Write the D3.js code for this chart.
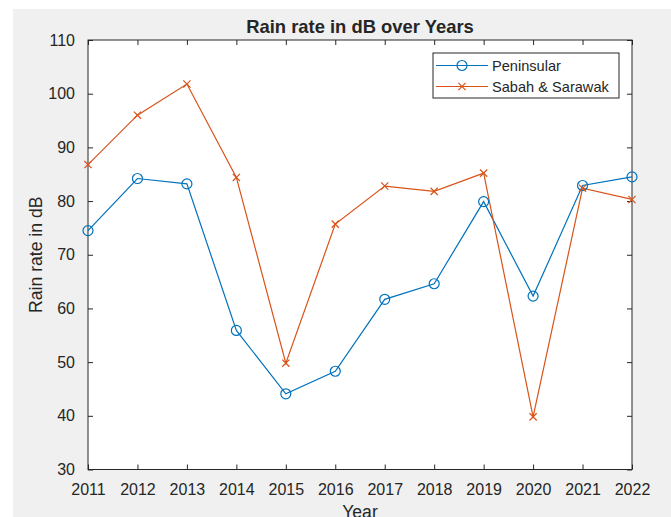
<!DOCTYPE html>
<html>
<head>
<meta charset="utf-8">
<script src="https://cdn.jsdelivr.net/npm/d3@7"></script>
<style>
  html, body { margin: 0; padding: 0; background: #ffffff; }
  svg { display: block; }
  text { font-family: "Liberation Sans", Arial, Helvetica, sans-serif; fill: #262626; }
</style>
</head>
<body>
<script>
// Annual rain rate (dB) for the two regions
const years = [2011, 2012, 2013, 2014, 2015, 2016, 2017, 2018, 2019, 2020, 2021, 2022];
const peninsular = [74.5, 84.2, 83.2, 55.9, 44.1, 48.3, 61.7, 64.6, 79.9, 62.3, 82.9, 84.5];
const sabahSarawak = [86.8, 96.0, 101.8, 84.4, 49.8, 75.7, 82.8, 81.8, 85.2, 39.8, 82.4, 80.3];
const yTicks = [30, 40, 50, 60, 70, 80, 90, 100, 110];
const seriesNames = ["Peninsular", "Sabah & Sarawak"];

const W = 671, H = 517;
const plotL = 88, plotR = 632, plotT = 40, plotB = 469.5;

const svg = d3.select("body").append("svg").attr("width", W).attr("height", H);

// figure background
svg.append("rect").attr("x", 13).attr("y", 9).attr("width", W - 13).attr("height", H - 9).attr("fill", "#f0f0f0");
svg.append("rect").attr("x", plotL).attr("y", plotT).attr("width", plotR - plotL).attr("height", plotB - plotT).attr("fill", "#ffffff");

const x = d3.scaleLinear().domain([2011, 2022]).range([plotL, plotR]);
const y = d3.scaleLinear().domain([30, 110]).range([plotB, plotT]);

const tickLen = 5;
// bottom axis with labels
const xAxis = svg.append("g").attr("transform", `translate(0,${plotB})`)
  .call(d3.axisBottom(x).tickValues(years).tickFormat(d3.format("d")).tickSizeInner(-tickLen).tickSizeOuter(0).tickPadding(14));
// top axis ticks only
const xTop = svg.append("g").attr("transform", `translate(0,${plotT})`)
  .call(d3.axisTop(x).tickValues(years).tickFormat("").tickSizeInner(-tickLen).tickSizeOuter(0));
// left axis with labels
const yAxis = svg.append("g").attr("transform", `translate(${plotL},0)`)
  .call(d3.axisLeft(y).tickValues(yTicks).tickSizeInner(-tickLen).tickSizeOuter(0).tickPadding(13));
// right axis ticks only
const yRight = svg.append("g").attr("transform", `translate(${plotR},0)`)
  .call(d3.axisRight(y).tickValues(yTicks).tickFormat("").tickSizeInner(-tickLen).tickSizeOuter(0));

[xAxis, xTop, yAxis, yRight].forEach(g => {
  g.select(".domain").remove();
  g.selectAll("line").attr("stroke", "#262626").attr("stroke-width", 1);
  g.selectAll("text").style("font-size", "16px").attr("fill", "#262626")
    .style("font-family", '"Liberation Sans", Arial, sans-serif');
});

// axes box
svg.append("rect").attr("x", plotL).attr("y", plotT).attr("width", plotR - plotL).attr("height", plotB - plotT)
  .attr("fill", "none").attr("stroke", "#262626").attr("stroke-width", 1);

const colors = ["#0072BD", "#D95319"];
const data = [peninsular, sabahSarawak];

const line = d3.line().x((d, i) => x(years[i])).y(d => y(d));

data.forEach((vals, s) => {
  svg.append("path").datum(vals).attr("d", line)
    .attr("fill", "none").attr("stroke", colors[s]).attr("stroke-width", 1.2);
});

function drawCircle(g, cx, cy, c) {
  g.append("circle").attr("cx", cx).attr("cy", cy).attr("r", 5)
    .attr("fill", "none").attr("stroke", c).attr("stroke-width", 1.2);
}
function drawCross(g, cx, cy, c) {
  const r = 3.6;
  g.append("path").attr("d", `M${cx - r},${cy - r}L${cx + r},${cy + r}M${cx - r},${cy + r}L${cx + r},${cy - r}`)
    .attr("stroke", c).attr("stroke-width", 1.2).attr("fill", "none");
}

const markers = svg.append("g");
peninsular.forEach((v, i) => drawCircle(markers, x(years[i]), y(v), colors[0]));
sabahSarawak.forEach((v, i) => drawCross(markers, x(years[i]), y(v), colors[1]));

// title and labels
svg.append("text").attr("x", (plotL + plotR) / 2).attr("y", 32.5).attr("text-anchor", "middle")
  .style("font-size", "18.4px").style("font-weight", "bold").attr("fill", "#000").text("Rain rate in dB over Years");
svg.append("text").attr("x", (plotL + plotR) / 2).attr("y", 518).attr("text-anchor", "middle")
  .style("font-size", "17.6px").text("Year");
svg.append("text").attr("transform", `translate(42,${(plotT + plotB) / 2}) rotate(-90)`).attr("text-anchor", "middle")
  .style("font-size", "17.6px").text("Rain rate in dB");

// legend
const lg = svg.append("g");
lg.append("rect").attr("x", 433).attr("y", 53).attr("width", 186).attr("height", 45)
  .attr("fill", "#ffffff").attr("stroke", "#262626").attr("stroke-width", 1);
seriesNames.forEach((name, s) => {
  const ly = 65.5 + s * 21;
  lg.append("line").attr("x1", 436).attr("x2", 488).attr("y1", ly).attr("y2", ly)
    .attr("stroke", colors[s]).attr("stroke-width", 1.2);
  if (s === 0) drawCircle(lg, 462, ly, colors[s]); else drawCross(lg, 462, ly, colors[s]);
  lg.append("text").attr("x", 492).attr("y", ly + 5).style("font-size", "14.6px").text(name);
});
</script>
</body>
</html>
